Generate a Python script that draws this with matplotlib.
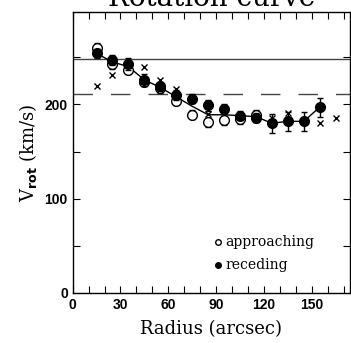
import numpy as np
import matplotlib
matplotlib.use("Agg")
import matplotlib.pyplot as plt

# radii (arcsec)
r_app = np.array([15, 25, 35, 45, 55, 65, 75, 85, 95, 105, 115])
v_app = np.array([260, 243, 237, 224, 217, 204, 189, 181, 183, 184, 189])
e_app = np.array([5, 5, 5, 5, 5, 5, 5, 5, 5, 5, 5])

r_rec = np.array([15, 25, 35, 45, 55, 65, 75, 85, 95, 105, 115, 125, 135, 145, 155])
v_rec = np.array([254, 247, 243, 226, 219, 210, 206, 199, 195, 188, 186, 180, 182, 182, 197])
e_rec = np.array([5, 5, 6, 6, 5, 5, 5, 6, 5, 5, 5, 10, 10, 10, 10])

r_avg = np.array([15, 25, 35, 45, 55, 65, 75, 85, 95, 105, 115, 125, 135, 145, 155])
v_avg = np.array([254, 245, 240, 226, 218, 208, 198, 189, 189, 188, 187, 180, 182, 182, 197])

r_x = np.array([15, 25, 45, 55, 65, 85, 125, 135, 155, 165])
v_x = np.array([220, 231, 240, 226, 216, 190, 186, 191, 180, 186])

v_flat = 248
v_dash = 211

serif = "DejaVu Serif"

fig = plt.figure(figsize=(3.51, 3.43), dpi=100)
ax = fig.add_axes([0.207, 0.146, 0.790, 0.819])

ax.axhline(v_flat, color="#444444", lw=1.0)
ax.axhline(v_dash, color="#444444", lw=1.0, dashes=(14, 13))

ax.plot(r_avg, v_avg, color="black", lw=1.0, zorder=2)
ax.errorbar(r_app, v_app, yerr=e_app, fmt="o", mfc="white", mec="black",
            ecolor="black", ms=7, mew=1.0, elinewidth=1.0, capsize=2.5, zorder=3)
ax.errorbar(r_rec, v_rec, yerr=e_rec, fmt="o", mfc="black", mec="black",
            ecolor="black", ms=7, elinewidth=1.0, capsize=2.5, zorder=4)
ax.plot(r_x, v_x, "x", color="black", ms=4, mew=1.0, zorder=5)

# legend drawn as text
ax.plot([91], [54], "o", mfc="white", mec="black", ms=4, mew=1.0)
ax.plot([91], [30], "o", color="black", ms=4)
ax.text(96, 54, "approaching", fontfamily=serif, fontsize=10, va="center")
ax.text(96, 30, "receding", fontfamily=serif, fontsize=10, va="center")

ax.set_xlim(0, 174)
ax.set_ylim(0, 298)
ax.set_xticks([0, 30, 60, 90, 120, 150])
ax.set_xticks(np.arange(0, 175, 10), minor=True)
ax.set_yticks([0, 100, 200])
ax.set_yticks([50, 150, 250], minor=True)
ax.tick_params(which="both", direction="in", top=True, right=True,
               labelsize=10, width=0.8)
ax.tick_params(which="major", length=5)
ax.tick_params(which="minor", length=5)
for lab in ax.get_xticklabels() + ax.get_yticklabels():
    lab.set_fontfamily("Liberation Sans")
    lab.set_fontweight("bold")

ax.set_xlabel("Radius (arcsec)", fontfamily=serif, fontsize=13, labelpad=6)
ax.set_ylabel(r"V$_{\mathbf{rot}}$ (km/s)", fontfamily=serif, fontsize=13, labelpad=4)
ax.set_title("Rotation curve", fontfamily=serif, fontsize=20, pad=4)

for s in ax.spines.values():
    s.set_linewidth(1.0)

fig.savefig("out.png", dpi=100)
